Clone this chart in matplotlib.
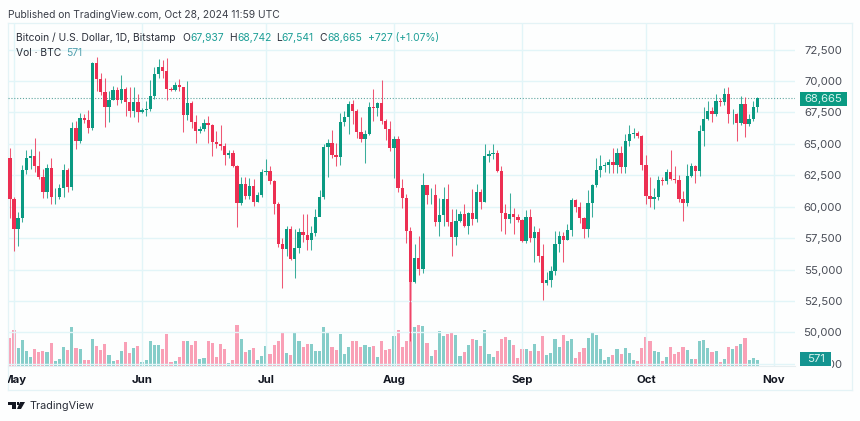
# Bitcoin daily candles with volume, TradingView style
import pandas as pd
import matplotlib
matplotlib.use("Agg")
import matplotlib.pyplot as plt
import matplotlib.dates as mdates
from matplotlib.lines import Line2D
from matplotlib.patches import Rectangle, Polygon
from matplotlib.transforms import Bbox

# Data, Apr 30 to Oct 28 2024 (one line per month)
opens = [63900,
    60600,58250,59100,62900,63900,64000,63200,62330,61190,63050,60790,60800,61450,62900,61550,66250,65250,67050,66920,66270,71400,70130,69100,67950,68520,69280,68500,69400,68300,67600,68350,
    67500,67720,67750,68800,70570,71080,70780,69350,69300,69650,69520,67320,68250,66760,66000,66200,66650,66500,65150,64980,64850,64100,64250,63200,60300,61800,60850,61650,60350,60900,
    62750,62850,62050,60200,57050,56600,58200,55850,56700,58000,57750,57350,57900,59200,60800,64750,65050,64100,63950,66700,67150,68200,67600,65950,65400,65800,67900,67850,68250,66800,66200,
    64650,65350,61500,60700,58100,54000,55950,55050,61700,60900,60930,58750,59350,60600,58750,57550,58900,59450,58450,59500,59000,61150,60400,64050,64170,64250,62850,59500,59050,59400,59150,
    58950,57300,59150,57480,57970,56100,53950,54150,54850,57050,57650,57350,58150,60550,60000,59100,58200,60300,61750,62950,63200,63350,63580,63330,64280,63150,65200,65800,65890,65650,
    63330,60850,60650,60750,62100,62050,62800,62200,62130,60600,60280,62450,63200,62850,66050,67000,67600,67350,68430,68360,69000,67350,67370,66640,68150,66600,67000,67937]
highs = [64700,
    60800,59600,63300,64500,64600,65450,64400,63000,63400,63900,61500,61800,63400,63100,66700,66800,67450,67400,67700,71500,71900,70650,70200,69200,69600,69500,70500,69550,69550,69500,69000,
    67850,68400,70100,71100,71750,71650,71850,69550,69900,70150,69550,70000,68400,67300,66400,66950,67250,66550,66000,66500,65050,64550,64550,63350,62400,62400,62300,62200,61200,63000,
    63800,63250,62150,60400,57500,58500,58450,58200,58300,59400,59450,58500,59800,61350,65000,65400,66100,65100,67450,67600,68400,68500,67800,67100,66100,68300,69350,68350,70050,67000,66800,
    65650,65600,62200,61000,58400,57000,57700,62700,61750,61450,61800,60700,61600,61800,59800,59850,59650,60250,59600,61400,61800,61400,65000,64500,65000,64500,63200,60200,61100,59900,59450,
    59050,59750,59800,58500,58300,57000,54800,55300,58100,58100,58000,58600,60700,60650,60400,59200,61300,61800,63850,64100,63550,63800,64700,64700,64800,65800,66500,66250,66050,65700,
    64150,62400,61450,62450,62400,63000,64500,63200,62550,61250,63400,63500,63300,66500,67900,68400,67950,69000,68650,69450,69500,67800,67450,68800,68750,67350,68400,68742]
lows = [59100,
    56500,56900,58800,62600,63000,62800,62200,60700,60700,60200,60200,60600,60800,61150,61300,64600,65100,66650,65850,66100,69200,68850,66350,66700,68500,68100,68250,67200,67100,67150,66700,
    67450,67200,67600,68550,70250,70200,68500,69200,69200,69200,65950,66900,66300,65050,65900,66050,65100,64050,64700,64500,63350,63900,63150,58400,60150,60650,60600,60050,60350,60750,
    62500,61800,59450,56800,53550,56050,55750,54300,56300,57200,56550,56550,57700,59450,60600,62400,63900,63250,63300,66400,65800,66600,65500,65150,63500,65700,66800,67200,66550,65300,64450,
    62300,61200,59900,57100,49300,53950,54550,54700,60200,60250,58500,57700,58500,58450,56100,56950,58800,58400,57850,58550,58800,59800,60350,63550,63800,62750,58100,57850,58700,57800,58750,
    57200,57150,57200,55600,55600,52550,53750,53650,54600,56400,55600,57350,57650,59550,58700,57500,57600,59200,61600,62350,62750,62700,62700,62700,62700,62650,64800,65450,65450,62900,
    60200,59950,59800,60500,61700,61800,62100,61850,60350,58900,60050,62400,61850,62450,64800,66900,66700,67200,68050,68100,66650,66550,65200,66500,65550,66450,66800,67541]
closes = [60600,
    58250,59100,62900,63900,64000,63200,62330,61190,63050,60790,60800,61450,62900,61550,66250,65250,67050,66920,66270,71400,70130,69100,67950,68520,69280,68500,69400,68300,67600,68350,67500,
    67720,67750,68800,70570,71080,70780,69350,69300,69650,69520,67320,68250,66760,66000,66200,66650,66500,65150,64980,64850,64100,64250,63200,60300,61800,60850,61650,60350,60900,62750,
    62850,62050,60200,57050,56600,58200,55850,56700,58000,57750,57350,57900,59200,60800,64750,65050,64100,63950,66700,67150,68200,67600,65950,65400,65800,67900,67850,68250,66800,66200,64650,
    65350,61500,60700,58100,54000,55950,55050,61700,60900,60930,58750,59350,60600,58750,57550,58900,59450,58450,59500,59000,61150,60400,64050,64170,64250,62850,59500,59050,59400,59150,58950,
    57300,59150,57480,57970,56100,53950,54150,54850,57050,57650,57350,58150,60550,60000,59100,58200,60300,61750,62950,63200,63350,63580,63330,64280,63150,65200,65800,65890,65650,63330,
    60850,60650,60750,62100,62050,62800,62200,62130,60600,60280,62450,63200,62850,66050,67000,67600,67350,68430,68360,69000,67350,67370,66640,68150,66600,67000,67937,68665]
volumes = [2660,
    3420,1710,2470,1430,860,1620,1330,1430,1330,2190,480,670,1810,1520,3710,1710,1620,570,570,2570,1900,1520,2090,1050,480,570,1430,2280,1240,1710,1900,
    380,570,2380,2000,2000,1620,3040,380,480,860,2380,2380,2000,2380,670,760,2380,2190,860,2090,1620,290,570,3900,2570,1330,1520,1710,570,950,
    1900,1140,2000,2380,3230,1240,1050,3140,2380,1810,2090,2090,1430,1430,3710,3140,1810,1520,3040,1140,1810,2380,2380,1810,2000,1810,1900,860,2380,1520,1620,
    2850,3420,1810,2380,8300,3710,3900,3800,2190,950,1520,3330,2850,3040,3230,2950,950,1330,2000,2570,2470,1900,3420,1140,860,1430,2570,2760,2470,2000,760,
    1620,1620,1430,2090,1430,2850,1050,1240,2570,1810,2950,2380,2570,760,1330,1710,2660,3230,2950,1620,570,860,1050,1620,1140,1710,1240,570,480,1710,
    2760,2380,1430,1330,480,860,1810,1140,1330,1810,1520,670,670,2380,2470,1710,1330,1430,380,670,1810,1620,1900,2090,2660,570,760,571]
price_ticks = [47500, 50000, 52500, 55000, 57500, 60000, 62500, 65000, 67500, 70000, 72500]
month_starts = ["2024-05-01", "2024-06-01", "2024-07-01", "2024-08-01", "2024-09-01", "2024-10-01", "2024-11-01"]
month_labels = ["May", "Jun", "Jul", "Aug", "Sep", "Oct", "Nov"]

dates = pd.date_range("2024-04-30", periods=len(closes))
x = mdates.date2num(dates)
x_may = mdates.date2num(pd.Timestamp("2024-05-01"))

TEAL = "#0a9a82"
RED = "#ec2f52"
TEAL_VOL = "#86cdc9"
RED_VOL = "#f9a0b6"
GRID = "#e2f5f8"
DARK = "#131722"
HEAD = "#2a2e39"
VALUE = "#1c9e96"

W, H = 860, 421
plt.rcParams["font.family"] = "Inter"


def fx(px):
    return px / W


def fy(py):
    return 1 - py / H


fig = plt.figure(figsize=(W / 100, H / 100), dpi=100, facecolor="#fdfefe")

# Pane runs from x=8 to 795 and y=23 to 366 in pixels
pane = [fx(8), fy(366), (795 - 8) / W, (366 - 23) / H]
vol_ax = fig.add_axes(pane, zorder=1)
ax = fig.add_axes(pane, zorder=2)
ax.patch.set_visible(False)
vol_ax.patch.set_visible(False)

colors_up = [c >= o for o, c in zip(opens, closes)]

# Volume
vol_ax.bar(x, volumes, width=0.76,
           color=[TEAL_VOL if up else RED_VOL for up in colors_up], linewidth=0)
vol_ax.set_ylim(0, 343 * 95)
vol_ax.set_xticks([])
vol_ax.set_yticks([])

# Candles
candle_colors = [TEAL if up else RED for up in colors_up]
ax.vlines(x, lows, highs, colors=candle_colors, linewidth=0.75, alpha=0.8, zorder=3)
ax.bar(x, [abs(c - o) for o, c in zip(opens, closes)],
       bottom=[min(o, c) for o, c in zip(opens, closes)],
       width=0.8, color=candle_colors, linewidth=0, zorder=4)

# Scales: 4.13 px per day, 0.01257 px per dollar
ax.set_xlim(x_may + (8 - 14) / 4.13, x_may + (795 - 14) / 4.13)
vol_ax.set_xlim(ax.get_xlim())
ax.set_ylim(70000 - 285 / 0.01257, 70000 + 58 / 0.01257)

ax.set_yticks(price_ticks)
ax.set_yticklabels([f"{p:,}" for p in price_ticks], fontsize=8.2, color="#4a4e58", ha="right")
ax.yaxis.tick_right()
ax.tick_params(axis="y", length=0, pad=34)
# 47,500 sits behind the volume tag, only its last digits show
bottom_label = ax.get_yticklabels()[0]
bottom_label.set_clip_on(True)
bottom_label.set_clip_box(Bbox([[832, 0], [860, 421]]))

tick_x = mdates.date2num(pd.to_datetime(month_starts))
ax.set_xticks(tick_x)
ax.set_xticklabels([])
ax.tick_params(axis="x", length=0)
ax.grid(True, color=GRID, linewidth=1.0, zorder=0)
ax.set_axisbelow(True)
for side in ["left", "right", "top"]:
    ax.spines[side].set_visible(False)
    vol_ax.spines[side].set_visible(False)
ax.spines["bottom"].set_color("#e6eef0")
vol_ax.spines["bottom"].set_visible(False)

# Month labels, the May one gets cut at the frame
clip = Bbox([[8, 0], [860, 421]])
for pos, label in zip(tick_x, month_labels):
    t = ax.text(pos, -14 / 343, label, transform=ax.get_xaxis_transform(), ha="center", va="center",
                fontsize=8.2, fontweight="bold", color=DARK, clip_on=True)
    t.set_clip_box(clip)

# Last price line
ax.axhline(closes[-1], color="#5fa6a0", linewidth=0.8, linestyle=(0, (1, 1.6)), zorder=2)

# Outer frame
for (x0, y0, x1, y1) in [(8, 23, 852, 23), (8, 23, 8, 390), (8, 390, 852, 390), (852, 23, 852, 390)]:
    fig.add_artist(Line2D([fx(x0), fx(x1)], [fy(y0), fy(y1)], color="#e4f3f6", linewidth=0.9,
                          transform=fig.transFigure))

# Price and volume tags
fig.add_artist(Rectangle((fx(800), fy(106)), 47 / W, 14 / H, color="#0a9a82", linewidth=0,
                         transform=fig.transFigure, zorder=5))
fig.text(fx(823.5), fy(99), f"{closes[-1]:,}", color="#d8f3ee", fontsize=8.2,
         ha="center", va="center", zorder=6)
fig.add_artist(Rectangle((fx(800), fy(366)), 31 / W, 14 / H, color="#149490", linewidth=0,
                         transform=fig.transFigure, zorder=5))
fig.text(fx(815.5), fy(359), f"{volumes[-1]}", color="#d8f3ee", fontsize=8.2,
         ha="center", va="center", zorder=6)

# Header
fig.text(fx(8), fy(15), "Published on TradingView.com, Oct 28, 2024 11:59 UTC",
         fontsize=7.4, color="#3a3e48", va="center")
fig.text(fx(16), fy(38), "Bitcoin / U.S. Dollar, 1D, Bitstamp", fontsize=7.4, color=HEAD, va="center")
legend_parts = [(182, 190, "O", opens[-1]), (229, 237, "H", highs[-1]), (276, 281, "L", lows[-1]), (319.5, 327, "C", closes[-1])]
for letter_x, value_x, letter, value in legend_parts:
    fig.text(fx(letter_x), fy(38), letter, fontsize=7.4, color=HEAD, va="center")
    fig.text(fx(value_x), fy(38), f"{value:,}", fontsize=7.4, color=VALUE, va="center")
fig.text(fx(368), fy(38), "+727 (+1.07%)", fontsize=7.4, color=VALUE, va="center")
fig.text(fx(16), fy(53), "Vol · BTC", fontsize=7.4, color=HEAD, va="center")
fig.text(fx(66), fy(53), f"{volumes[-1]}", fontsize=7.4, color="#4f9fae", va="center")

# TradingView mark and name
for patch in [
    Polygon([(fx(8), fy(402)), (fx(16), fy(402)), (fx(16), fy(409)), (fx(12), fy(409)), (fx(12), fy(405)), (fx(8), fy(405))]),
    Polygon([(fx(20), fy(402)), (fx(25), fy(402)), (fx(21), fy(409)), (fx(17), fy(409))]),
]:
    patch.set(color=DARK, linewidth=0, transform=fig.transFigure)
    fig.add_artist(patch)
fig.add_artist(Rectangle((fx(16.5), fy(405)), 2.6 / W, 2.6 / H, color=DARK, linewidth=0, transform=fig.transFigure))
fig.text(fx(29), fy(406), "TradingView", fontsize=7.8, color=HEAD, va="center")

fig.savefig("out.png", dpi=100, facecolor=fig.get_facecolor())
